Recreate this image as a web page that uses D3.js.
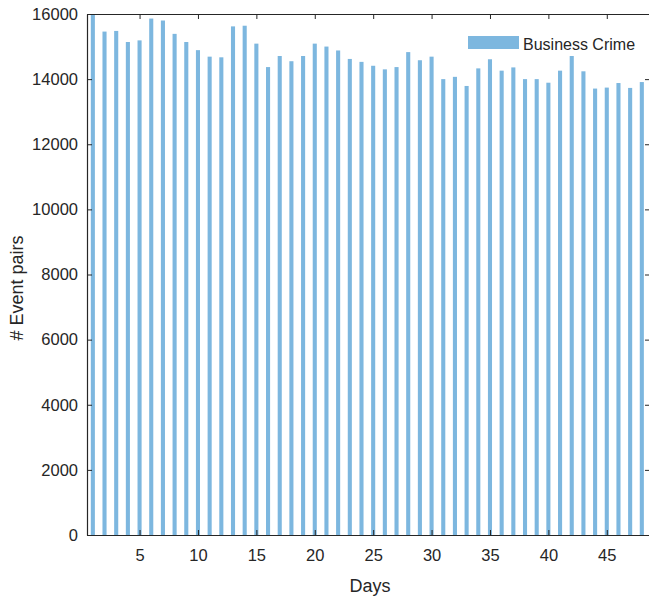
<!DOCTYPE html>
<html>
<head>
<meta charset="utf-8">
<script src="https://cdn.jsdelivr.net/npm/d3@7"></script>
<style>
  html, body { margin: 0; padding: 0; background: #fff; }
  svg { display: block; }
  text { font-family: "Liberation Sans", Arial, Helvetica, sans-serif; fill: #262626; }
</style>
</head>
<body>
<svg id="chart" width="649" height="601"></svg>
<script>
const days = d3.range(1, 49);
const seriesName = "Business Crime";
const values = [
  16050, 15460, 15480, 15140, 15190, 15860, 15800, 15390, 15140, 14890,
  14690, 14670, 15620, 15640, 15090, 14370, 14710, 14550, 14710, 15090,
  15000, 14880, 14620, 14530, 14410, 14300, 14370, 14830, 14580, 14690,
  14000, 14070, 13790, 14330, 14610, 14260, 14360, 14000, 14000, 13890,
  14260, 14710, 14240, 13710, 13740, 13880, 13730, 13910
];
const xTicks = [5, 10, 15, 20, 25, 30, 35, 40, 45];
const yTicks = [0, 2000, 4000, 6000, 8000, 10000, 12000, 14000, 16000];
const xTitle = "Days";
const yTitle = "# Event pairs";

const svg = d3.select("#chart");
const L = 87, R = 650, T = 14, B = 535;
const axisColor = "#262626";
const barColor = "#7db7df";

const x = d3.scaleLinear().domain([0.5, 48.7]).range([L, R]);
const y = d3.scaleLinear().domain([0, 16000]).range([B, T]);

svg.append("defs").append("clipPath").attr("id", "clip")
  .append("rect").attr("x", L).attr("y", T).attr("width", R - L).attr("height", B - T);

const bw = (x(1) - x(0)) * 0.35;
svg.append("g").attr("clip-path", "url(#clip)")
  .selectAll("rect").data(days).join("rect")
  .attr("x", (d) => x(d) - bw / 2)
  .attr("y", (d, i) => y(values[i]))
  .attr("width", bw)
  .attr("height", (d, i) => B - y(values[i]))
  .attr("fill", barColor);

// Axes
const fs = "16.5px";
const gB = svg.append("g").attr("transform", `translate(0,${B})`)
  .call(d3.axisBottom(x).tickValues(xTicks).tickSize(-5).tickPadding(14).tickSizeOuter(0));
const gT = svg.append("g").attr("transform", `translate(0,${T})`)
  .call(d3.axisTop(x).tickValues(xTicks).tickSize(-5).tickFormat("").tickSizeOuter(0));
const gL = svg.append("g").attr("transform", `translate(${L},0)`)
  .call(d3.axisLeft(y).tickValues(yTicks).tickSize(-5).tickPadding(9).tickFormat(d3.format("d")).tickSizeOuter(0));
const gR = svg.append("g").attr("transform", `translate(${R},0)`)
  .call(d3.axisRight(y).tickValues(yTicks).tickSize(-5).tickFormat("").tickSizeOuter(0));

[gB, gT, gL, gR].forEach(g => {
  g.select(".domain").attr("stroke", axisColor).attr("stroke-width", 1.2);
  g.selectAll(".tick line").attr("stroke", axisColor).attr("stroke-width", 1);
  g.selectAll("text").attr("font-size", fs).attr("font-family", "Liberation Sans, Arial, sans-serif").attr("fill", axisColor);
});

// Titles
svg.append("text").attr("x", 370).attr("y", 592).attr("text-anchor", "middle")
  .attr("font-size", "18px").text(xTitle);
svg.append("text").attr("transform", "translate(23,288) rotate(-90)").attr("text-anchor", "middle")
  .attr("font-size", "18px").text(yTitle);

// Legend
const lg = svg.append("g");
lg.append("rect").attr("x", 468).attr("y", 36).attr("width", 51).attr("height", 13).attr("fill", barColor);
lg.append("text").attr("x", 523).attr("y", 49.5).attr("font-size", "16px").text(seriesName);
</script>
</body>
</html>
